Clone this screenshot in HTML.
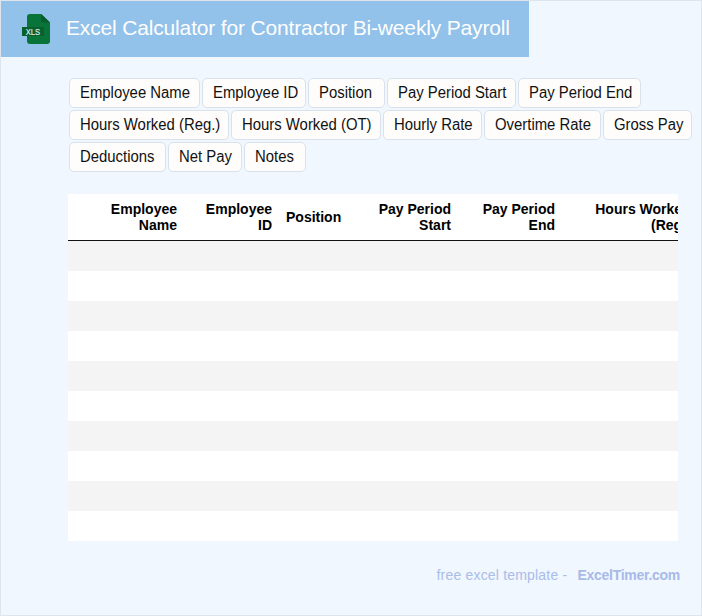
<!DOCTYPE html>
<html><head><meta charset="utf-8">
<style>
*{box-sizing:border-box;margin:0;padding:0}
html,body{width:702px;height:616px;overflow:hidden}
body{background:#f0f7fe;font-family:"Liberation Sans",sans-serif;position:relative}
.frame{position:absolute;left:0;top:0;width:702px;height:616px;border:1px solid #dfe5ec}
.hdr{position:absolute;left:1px;top:1px;width:528px;height:56px;background:#92c1ea}
.icon{position:absolute;left:19px;top:11px;width:32px;height:34px}
.title{position:absolute;left:65px;top:14.5px;font-size:21px;letter-spacing:-0.16px;color:#fff;white-space:nowrap;line-height:24px}
.chip{position:absolute;height:30px;background:#fffdfb;border:1px solid #d9e2ec;border-radius:5px;font-size:15px;color:#111;line-height:28px;text-align:left;padding-left:9.6px;white-space:nowrap}
.chip span{display:inline-block;font-size:16px;transform:scaleX(0.93);transform-origin:0 50%}
.tbl{position:absolute;left:68px;top:194px;width:610px;height:347px;overflow:hidden;background:#fff}
.th{position:absolute;font-size:14px;font-weight:bold;color:#000;text-align:right;line-height:16px;white-space:nowrap}
.hline{position:absolute;left:0;top:46px;width:610px;height:1px;background:#111}
.row{position:absolute;left:0;width:610px;height:30px}
.g{background:#f4f4f4}
.foot{position:absolute;top:566px;font-size:14px;white-space:nowrap;line-height:18px}
</style></head><body>
<div class="frame"></div>
<div class="hdr">
  <svg class="icon" viewBox="0 0 32 34" width="32" height="34">
    <path d="M10 2 H21.2 L30 10.6 V29 Q30 32 27 32 H10 Q7 32 7 29 V5 Q7 2 10 2 Z" fill="#09743a"/>
    <path d="M21.2 2 V10.6 H30 Z" fill="#075e2f"/>
    <rect x="2" y="15" width="22" height="9" fill="#08602f"/>
    <text x="5.8" y="22.6" font-family="Liberation Sans" font-size="8.8" fill="#dfe9e0" stroke="#dfe9e0" stroke-width="0.2" textLength="14.3" lengthAdjust="spacingAndGlyphs">XLS</text>
  </svg>
  <div class="title">Excel Calculator for Contractor Bi-weekly Payroll</div>
</div>

<div class="chip" style="left:69px;top:78px;width:131px"><span>Employee Name</span></div>
<div class="chip" style="left:202px;top:78px;width:104px"><span>Employee ID</span></div>
<div class="chip" style="left:308px;top:78px;width:77px"><span>Position</span></div>
<div class="chip" style="left:387px;top:78px;width:129px"><span>Pay Period Start</span></div>
<div class="chip" style="left:518px;top:78px;width:123px"><span>Pay Period End</span></div>

<div class="chip" style="left:69px;top:110px;width:160px"><span>Hours Worked (Reg.)</span></div>
<div class="chip" style="left:231px;top:110px;width:150px"><span>Hours Worked (OT)</span></div>
<div class="chip" style="left:383px;top:110px;width:99px"><span>Hourly Rate</span></div>
<div class="chip" style="left:484px;top:110px;width:117px"><span>Overtime Rate</span></div>
<div class="chip" style="left:603px;top:110px;width:89px"><span>Gross Pay</span></div>

<div class="chip" style="left:69px;top:142px;width:97px"><span>Deductions</span></div>
<div class="chip" style="left:168px;top:142px;width:74px"><span>Net Pay</span></div>
<div class="chip" style="left:244px;top:142px;width:62px"><span>Notes</span></div>

<div class="tbl">
  <div class="th" style="right:501px;top:7px">Employee<br>Name</div>
  <div class="th" style="right:406px;top:7px">Employee<br>ID</div>
  <div class="th" style="left:218px;top:15px">Position</div>
  <div class="th" style="right:227px;top:7px">Pay Period<br>Start</div>
  <div class="th" style="right:123px;top:7px">Pay Period<br>End</div>
  <div class="th" style="left:527px;top:7px">Hours Worked<br><span style="padding-left:56px">(Reg.)</span></div>
  <div class="hline"></div>
  <div class="row g" style="top:47px"></div>
  <div class="row" style="top:77px"></div>
  <div class="row g" style="top:107px"></div>
  <div class="row" style="top:137px"></div>
  <div class="row g" style="top:167px"></div>
  <div class="row" style="top:197px"></div>
  <div class="row g" style="top:227px"></div>
  <div class="row" style="top:257px"></div>
  <div class="row g" style="top:287px"></div>
  <div class="row" style="top:317px"></div>
</div>

<div class="foot" style="left:436.5px;color:#aabde9;letter-spacing:0.19px">free excel template -</div>
<div class="foot" style="left:577.5px;color:#a7bae9;font-weight:bold;letter-spacing:-0.28px">ExcelTimer.com</div>
</body></html>
